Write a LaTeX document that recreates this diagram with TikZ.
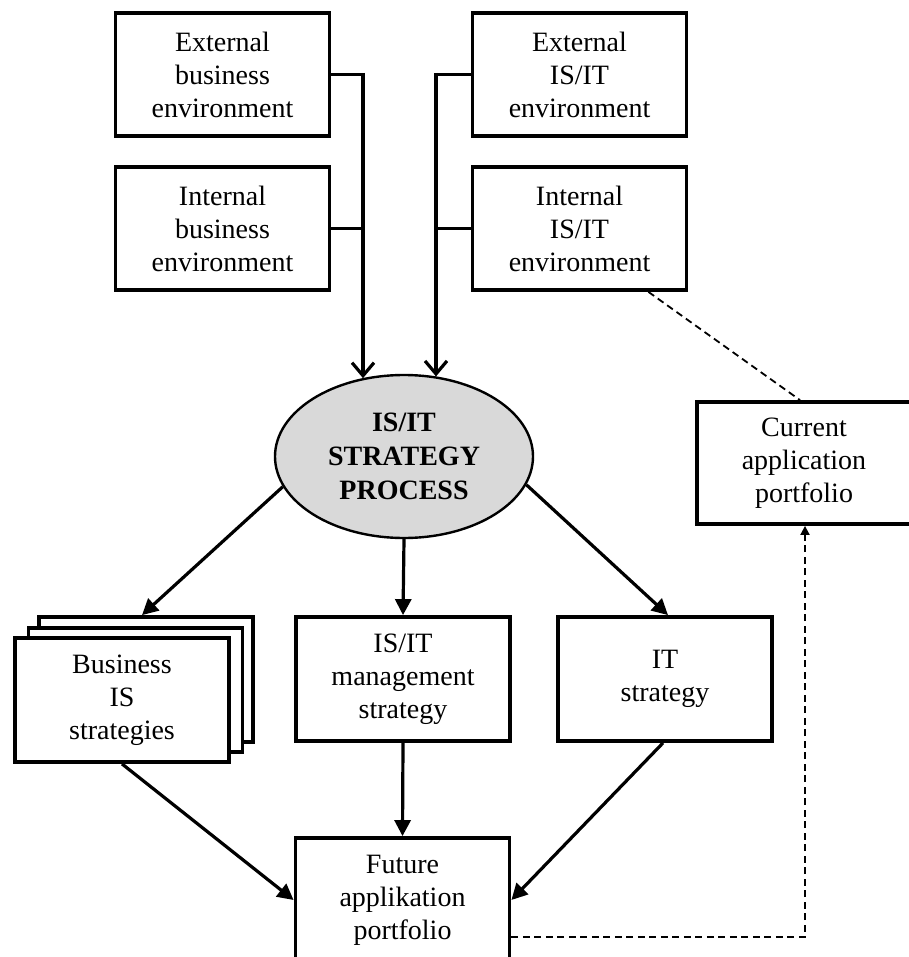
\documentclass[tikz,border=0pt]{standalone}
\usepackage{fontspec}
\setmainfont{Liberation Serif}
\usetikzlibrary{arrows.meta,shapes.geometric,calc}
\begin{document}
\begin{tikzpicture}[x=1pt,y=-1pt,
  txt/.style={font=\fontsize{28}{33}\selectfont, align=center},
  box/.style={txt, draw, line width=3.8pt, rectangle, inner sep=0pt, minimum width=214pt, minimum height=123pt, fill=white},
  feed/.style={line width=3.4pt},
  inarrow/.style={line width=3.2pt, -{Straight Barb[length=13pt,width=22pt]}},
  arr/.style={line width=3.2pt, -{Triangle[length=16pt,width=16pt]}},
  dashline/.style={line width=1.8pt, dash pattern=on 7pt off 4.5pt},
]
\useasboundingbox (0,0) rectangle (908,957);

% top boxes
\node[box] (eb) at (222.5,74.5) {External\\business\\environment};
\node[box] (ib) at (222.5,228.5) {Internal\\business\\environment};
\node[box] (ei) at (579.5,74.5) {External\\IS/IT\\environment};
\node[box] (ii) at (579.5,228.5) {Internal\\IS/IT\\environment};

% ellipse
\node[ellipse, draw, line width=2.4pt, fill={rgb,255:red,217;green,217;blue,217},
      minimum width=258pt, minimum height=163pt, inner sep=0pt,
      font=\fontsize{28}{34}\selectfont\bfseries, align=center]
      (ell) at (404,456.5) {IS/IT\\STRATEGY\\PROCESS};

% stacked business boxes
\node[box, minimum height=125pt] (bback) at (146,679.5) {};
\node[box, minimum height=124pt] (bmid) at (135.5,690) {};
\node[box, minimum height=124pt] (bfront) at (122,700) {Business\\IS\\strategies};

% middle boxes
\node[box, minimum height=124pt] (mgmt) at (403,679) {IS/IT\\management\\strategy};
\node[box, minimum height=124pt] (its) at (665,679) {IT\\strategy};

% future
\node[box, minimum height=124pt] (fut) at (402.5,900) {Future\\applikation\\portfolio};

% current
\node[box, minimum height=122pt] (cur) at (804,463) {Current\\application\\portfolio};

% feeders left
\coordinate (tl) at (363,74.5);
\draw[feed] (eb.east) -- (tl);
\draw[feed] (ib.east) -- (tl |- ib.east);
\draw[inarrow] ($(tl)+(0,-1.7)$) -- (tl |- ell.118);

% feeders right
\coordinate (tr) at (436,74.5);
\draw[feed] (ei.west) -- (tr);
\draw[feed] (ii.west) -- (tr |- ii.west);
\draw[inarrow] ($(tr)+(0,-1.7)$) -- (tr |- ell.68);

% from ellipse
\draw[arr] (ell.194) -- ($(bback.north)+(-4,0)$);
\draw[arr] (ell.south) -- (mgmt.north);
\draw[arr] (ell.-13) -- ($(its.north)+(3,0)$);

% to future
\draw[arr] (bfront.south) -- (fut.west);
\draw[arr] (mgmt.south) -- (fut.north);
\draw[arr] ($(its.south)+(-2,0)$) -- (fut.east);

% dashed
\draw[dashline] ($(ii.south east)+(-40,0)$) -- ($(cur.north)+(-4,0)$);
\coordinate (dc) at (805,937);
\draw[dashline, -{Triangle[length=9pt,width=9pt]}] ($(fut.east)+(0,37)$) -- (dc) -- (dc |- cur.south);
\end{tikzpicture}
\end{document}
